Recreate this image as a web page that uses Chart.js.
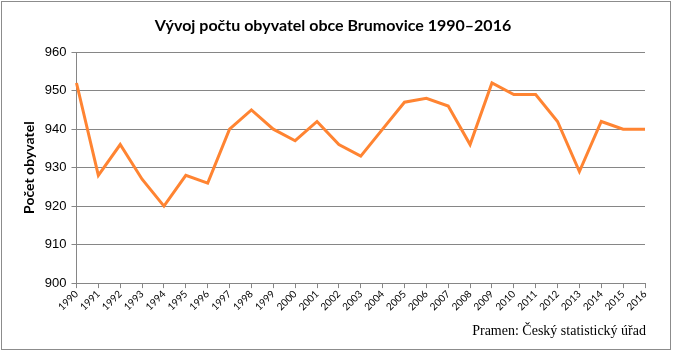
<!DOCTYPE html>
<html>
<head>
<meta charset="utf-8">
<script src="https://cdn.jsdelivr.net/npm/chart.js@4"></script>
<style>
  html, body { margin: 0; padding: 0; background: #fff; }
  #wrap { position: absolute; left: 1px; top: 1px; width: 668px; height: 347px; border: 1px solid #8c8c8c; }
  canvas { display: block; }
</style>
</head>
<body>
<div id="wrap"><canvas id="lineChart" width="668" height="347"></canvas></div>
<script>
// Population of Brumovice 1990-2016
const years = ['1990','1991','1992','1993','1994','1995','1996','1997','1998','1999','2000','2001','2002',
  '2003','2004','2005','2006','2007','2008','2009','2010','2011','2012','2013','2014','2015','2016'];
const population = [952, 928, 936, 927, 920, 928, 926, 940, 945, 940, 937, 942, 936,
  933, 940, 947, 948, 946, 936, 952, 949, 949, 942, 929, 942, 940, 940];
const yTicks = [900, 910, 920, 930, 940, 950, 960];

const sourceNote = {
  id: 'sourceNote',
  afterDraw(chart) {
    const ctx = chart.ctx;
    ctx.save();
    ctx.font = '14px "Liberation Serif"';
    ctx.fillStyle = '#000';
    ctx.textAlign = 'right';
    ctx.textBaseline = 'middle';
    ctx.fillText('Pramen: Český statistický úřad', 644, 329);
    ctx.restore();
  }
};

new Chart(document.getElementById('lineChart').getContext('2d'), {
  type: 'line',
  data: {
    labels: years,
    datasets: [{
      label: 'Počet obyvatel',
      data: population,
      borderColor: '#ff8432',
      borderWidth: 3,
      pointRadius: 0,
      tension: 0,
      fill: false
    }]
  },
  options: {
    responsive: false,
    animation: false,
    layout: { padding: { left: 19, right: 25, top: 6, bottom: 36 } },
    plugins: {
      legend: { display: false },
      tooltip: { enabled: false },
      title: {
        display: true,
        text: 'Vývoj počtu obyvatel obce Brumovice 1990–2016',
        color: '#000',
        font: { family: 'Lato', size: 16, weight: 'bold' },
        padding: { top: 8, bottom: 17 }
      }
    },
    scales: {
      x: {
        offset: false,
        grid: { drawOnChartArea: false, drawTicks: true, tickLength: 5, color: '#868686' },
        border: { color: '#868686' },
        ticks: {
          color: '#000',
          font: { family: 'Lato', size: 10 },
          maxRotation: 45,
          minRotation: 45,
          autoSkip: false,
          padding: 0
        }
      },
      y: {
        min: 900,
        max: 960,
        afterBuildTicks(axis) { axis.ticks = yTicks.map(v => ({ value: v })); },
        grid: { color: '#868686', tickLength: 5 },
        border: { color: '#868686' },
        ticks: {
          color: '#000',
          font: { family: 'Liberation Sans', size: 13 },
          padding: 5
        },
        title: {
          display: true,
          text: 'Počet obyvatel',
          color: '#000',
          font: { family: 'Lato', size: 14, weight: 'bold' },
          padding: { top: 0, bottom: 2 }
        }
      }
    }
  },
  plugins: [sourceNote]
});
</script>
</body>
</html>
